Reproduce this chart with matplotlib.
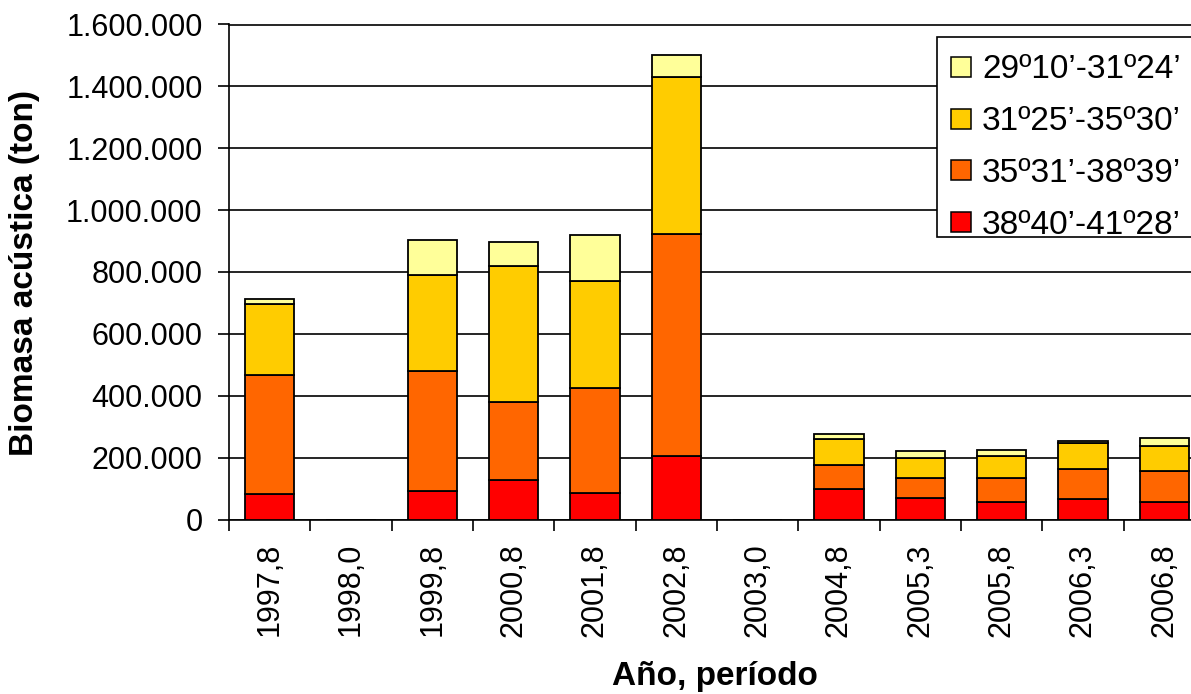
import matplotlib.pyplot as plt
from matplotlib.patches import Rectangle
from matplotlib.ticker import FuncFormatter, FixedLocator

plt.rcParams['font.family'] = ['Liberation Sans', 'DejaVu Sans']

periods = ['1997,8', '1998,0', '1999,8', '2000,8', '2001,8', '2002,8',
           '2003,0', '2004,8', '2005,3', '2005,8', '2006,3', '2006,8']
zones = ["38º40’-41º28’", "35º31’-38º39’", "31º25’-35º30’", "29º10’-31º24’"]
colors = ['#FF0000', '#FF6600', '#FFCC00', '#FFFF99']

# biomass by latitude band (ton), south to north
z_38_41 = [84000, 0, 93000, 129000, 86000, 206000, 0, 99000, 71000, 57000, 65000, 57000]
z_35_38 = [382000, 0, 388000, 252000, 338000, 718000, 0, 78000, 64000, 77000, 98000, 99000]
z_31_35 = [232000, 0, 308000, 437000, 346000, 505000, 0, 83000, 64000, 71000, 83000, 83000]
z_29_31 = [15000, 0, 114000, 79000, 149000, 72000, 0, 16000, 21000, 21000, 7000, 23000]
series = [z_38_41, z_35_38, z_31_35, z_29_31]

W, H = 1191, 694
fig = plt.figure(figsize=(W / 100, H / 100), dpi=100)


def fx(px):
    return px / W


def fy(py):
    return (H - py) / H


# plot area runs a bit past the right edge of the figure
ax = fig.add_axes([fx(229), fy(519.5), 976 / W, 495 / H])

x = range(len(periods))
bottom = [0] * len(periods)
for vals, c in zip(series, colors):
    ax.bar(x, vals, width=0.61, bottom=bottom, color=c, edgecolor='black',
           linewidth=1.3, zorder=3)
    bottom = [b + v for b, v in zip(bottom, vals)]

ax.set_xlim(-0.5, len(periods) - 0.5)
ax.set_ylim(0, 1600000)
ax.set_yticks(range(0, 1600001, 200000))
ax.yaxis.set_major_formatter(FuncFormatter(lambda v, p: f'{int(v):,}'.replace(',', '.')))
ax.yaxis.grid(True, color='black', linewidth=1.2, zorder=0)

ax.set_xticks(list(x))
ax.set_xticklabels(periods, rotation=90, va='top', ha='center')
ax.xaxis.set_minor_locator(FixedLocator([i - 0.5 for i in range(len(periods) + 1)]))
ax.tick_params(axis='x', which='major', length=0, pad=17, labelsize=22)
ax.tick_params(axis='x', which='minor', length=8, width=1.2, direction='out')
ax.tick_params(axis='y', length=8, width=1.2, direction='out', pad=11, labelsize=22)

for s in ['left', 'bottom', 'top']:
    ax.spines[s].set_linewidth(1.2)
ax.spines['right'].set_visible(False)

fig.text(fx(25), fy(273), 'Biomasa acústica (ton)', rotation=90,
         ha='center', va='center', fontsize=24, fontweight='bold')
fig.text(fx(715), fy(676), 'Año, período',
         ha='center', va='center', fontsize=24, fontweight='bold')

# legend box, northern band on top; it is cut by the figure edge on the right
fig.patches.append(Rectangle((fx(937), fy(237)), fx(1260) - fx(937), fy(37) - fy(237),
                             transform=fig.transFigure, facecolor='white',
                             edgecolor='black', linewidth=1.2, zorder=5))
for i, (name, c) in enumerate(zip(zones[::-1], colors[::-1])):
    yc = 67 + i * 51.7
    fig.patches.append(Rectangle((fx(951), fy(yc + 10)), 20 / W, 20 / H,
                                 transform=fig.transFigure, facecolor=c,
                                 edgecolor='black', linewidth=1.1, zorder=6))
    fig.text(fx(982), fy(yc + 11.5), name, ha='left', va='baseline',
             fontsize=24, zorder=6)

fig.savefig('out.png', dpi=100)
